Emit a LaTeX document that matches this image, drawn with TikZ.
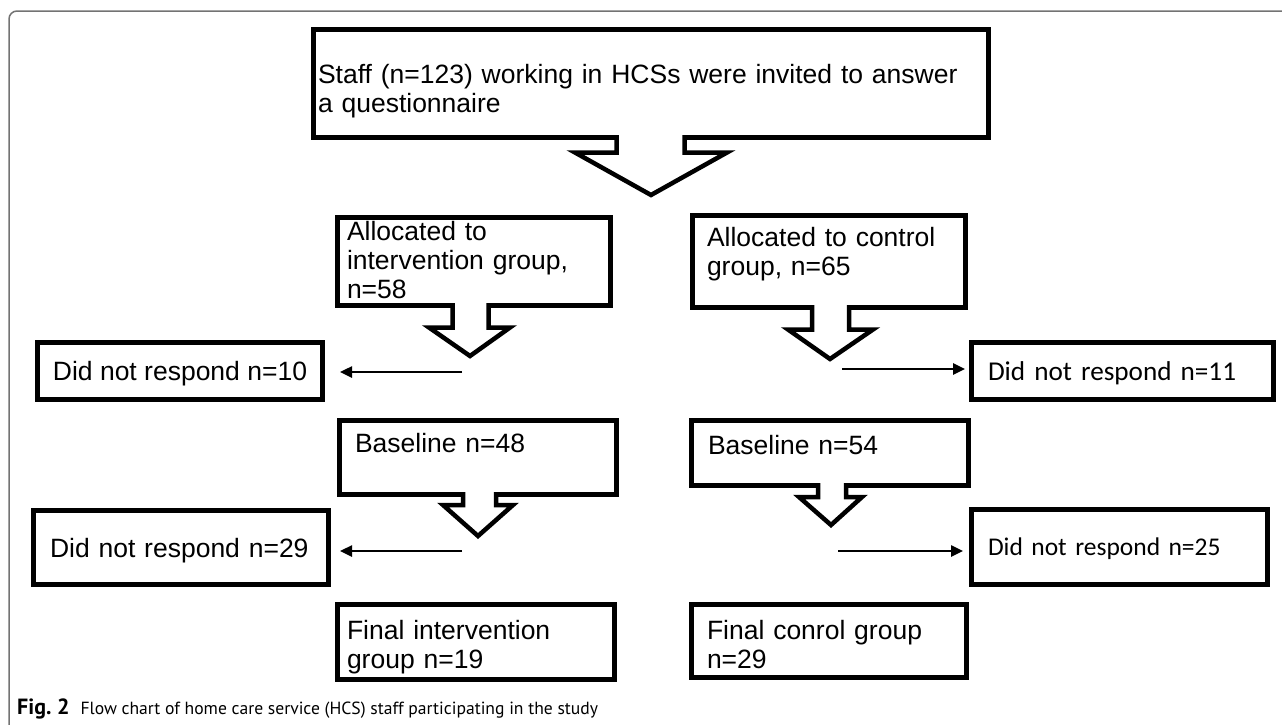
\documentclass[tikz,border=0pt]{standalone}
\usepackage{fontspec}
\setmainfont{Liberation Sans}
\newfontfamily\califont{Carlito}
\newfontfamily\captfont{PT Sans}
\usetikzlibrary{arrows.meta}

\tikzset{
  box/.style={draw, line width=5pt, inner ysep=0pt, text height=19pt, align=left,
    font=\fontsize{26.5}{29}\selectfont},
  flow/.style={line width=2.5pt, -{Triangle[length=12pt,width=11pt]}},
  blockarr/.style={line width=4.5pt, fill=white},
  frame/.style={draw=black!55, line width=1.5pt, rounded corners=8pt}
}

\begin{document}
\begin{tikzpicture}[x=1pt, y=-1pt]
  \useasboundingbox (0,0) rectangle (1282,724);
  \draw[frame] (1290,11) -- (9,11) -- (9,730);

  % top box
  \node[box, minimum width=675pt, minimum height=108pt, inner xsep=4.5pt, text width=666pt, text depth=20pt] (staff) at (651,83.5)
    {Staff (n=123) working in HCSs were invited to answer\\a questionnaire};

  % allocation
  \node[box, minimum width=273pt, minimum height=88pt, inner xsep=9.5pt, text width=254pt, text depth=62pt] (interv) at (474,261.5)
    {Allocated to\\intervention group,\\n=58};
  \node[box, minimum width=273pt, minimum height=92pt, inner xsep=14.5pt, text width=244pt, text depth=50pt] (ctrl) at (829,261.5)
    {Allocated to control\\group, n=65};

  % first drop out
  \node[box, minimum width=285pt, minimum height=57pt, text depth=0pt, align=center] (nrI1) at (180,371) {Did not respond n=10};
  \node[box, minimum width=302pt, minimum height=57pt, inner xsep=16.5pt, text width=269pt, text depth=0pt,
    font=\califont\fontsize{27.2}{30}\selectfont] (nrC1) at (1122.5,371) {Did not respond n=11};

  % baseline
  \node[box, minimum width=277pt, minimum height=74pt, inner xsep=15.5pt, text width=246pt, text depth=30pt] (baseI) at (478,457.5)
    {Baseline n=48};
  \node[box, minimum width=277pt, minimum height=65pt, inner xsep=16.5pt, text width=244pt, text depth=17pt] (baseC) at (830,453)
    {Baseline n=54};

  % second drop out
  \node[box, minimum width=295pt, minimum height=74pt, inner xsep=16.5pt, text width=262pt, text depth=0pt] (nrI2) at (181,547.5)
    {Did not respond n=29};
  \node[box, minimum width=296pt, minimum height=75pt, inner xsep=16.5pt, text width=263pt, text height=17pt, text depth=0pt,
    font=\califont\fontsize{25.5}{29}\selectfont] (nrC2) at (1119.5,547) {Did not respond n=25};

  % final groups
  \node[box, minimum width=277pt, minimum height=75pt, inner xsep=9.5pt, text width=258pt, text depth=25pt] (finI) at (476,642)
    {Final intervention\\group n=19};
  \node[box, minimum width=275pt, minimum height=73pt, inner xsep=15.5pt, text width=244pt, text depth=23pt] (finC) at (829,641)
    {Final conrol group\\n=29};

  % block arrows: shaft left/right, head left/right, box bottom, head top, tip
  \foreach \sl/\sr/\hl/\hr/\yb/\yh/\xt/\yt in {616.5/684.5/575/727/137.5/152.5/651/195,
      452.5/488.5/429/510/305.5/327.5/470/356, 812/849/788/873/307.5/329.5/830/359,
      463/496/443/513/494.5/505/478/536, 818/846/799/862/485.5/497/831/525}
    \draw[blockarr] (\sl,\yb-2.5) -- (\sl,\yh) -- (\hl,\yh) -- (\xt,\yt) -- (\hr,\yh) -- (\sr,\yh) -- (\sr,\yb-2.5);

  % drop out arrows
  \coordinate (outI1) at (462,372);
  \coordinate (outC1) at (842,369);
  \coordinate (outI2) at (462,551);
  \coordinate (outC2) at (838,551);
  \draw[flow, shorten >=15pt] (outI1) -- (outI1 -| nrI1.east);
  \draw[flow, shorten >=4pt] (outC1) -- (outC1 -| nrC1.west);
  \draw[flow, shorten >=9pt] (outI2) -- (outI2 -| nrI2.east);
  \draw[flow, shorten >=6pt] (outC2) -- (outC2 -| nrC2.west);

  \node[anchor=base west, inner sep=0pt, font=\captfont\fontsize{17.6}{20}\selectfont] (caption) at (17,714)
    {{\fontsize{22}{23}\selectfont\bfseries Fig.~2}\hspace{11pt}Flow chart of home care service (HCS) staff participating in the study};
\end{tikzpicture}
\end{document}
